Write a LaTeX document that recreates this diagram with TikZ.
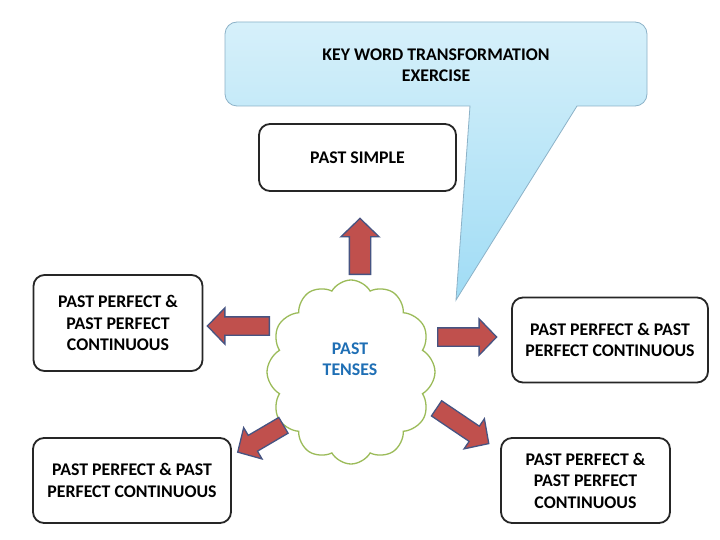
\documentclass[tikz,border=0pt]{standalone}
\usepackage{fontspec}
\setmainfont{Carlito}
\usetikzlibrary{shapes.arrows,shapes.symbols}
\definecolor{arrfill}{RGB}{192,80,77}
\definecolor{arrline}{RGB}{70,84,130}
\definecolor{cloudline}{RGB}{155,187,89}
\definecolor{boxline}{RGB}{38,38,38}
\definecolor{calltop}{RGB}{214,240,250}
\definecolor{callbot}{RGB}{160,220,245}
\definecolor{callline}{RGB}{140,178,200}
\definecolor{tensecol}{RGB}{31,111,181}
\tikzset{
  tensebox/.style={draw=boxline, line width=1.8pt, rounded corners=11pt, fill=white,
    font=\fontsize{17.8}{21.5}\selectfont\bfseries, align=center, inner sep=0pt},
  blockarrow/.style={single arrow, draw=arrline, line width=1.3pt, fill=arrfill,
    inner xsep=0pt, inner ysep=8.5pt, single arrow head extend=9pt, single arrow tip angle=92, anchor=tail},
}
\begin{document}
\begin{tikzpicture}[x=1pt,y=-1pt]
\useasboundingbox (0,0) rectangle (720,540);
\fill[white] (0,0) rectangle (720,540);
% callout
\path[draw=callline, line width=0.8pt, top color=calltop, bottom color=callbot]
  (470,106) -- (456,300) -- (577,106) [rounded corners=12pt] -- (647,106) -- (647,22) -- (225,22) -- (225,106) [sharp corners] -- cycle;
\node[font=\fontsize{17.8}{21.5}\selectfont\bfseries, align=center] (title) at (436,65) {KEY WORD TRANSFORMATION\\EXERCISE};
% boxes
\node[tensebox, minimum width=197pt, minimum height=67pt] (simple) at (357.5,157.5) {PAST SIMPLE};
\node[tensebox, minimum width=169pt, minimum height=96pt] (left) at (118,323) {PAST PERFECT \&\\PAST PERFECT\\CONTINUOUS};
\node[tensebox, minimum width=196pt, minimum height=85pt] (right) at (610,340) {PAST PERFECT \& PAST\\PERFECT CONTINUOUS};
\node[tensebox, minimum width=198pt, minimum height=85pt] (botleft) at (132,480.5) {PAST PERFECT \& PAST\\PERFECT CONTINUOUS};
\node[tensebox, minimum width=169pt, minimum height=85pt] (botright) at (585.5,480.5) {PAST PERFECT \&\\PAST PERFECT\\CONTINUOUS};
% cloud
\node[cloud, cloud puffs=12, cloud puff arc=120, draw=cloudline, line width=1.3pt, fill=white,
  minimum width=168pt, minimum height=184pt, inner sep=0pt] (cloud) at (351,372) {};
\node[font=\fontsize{17.8}{21.5}\selectfont\bfseries, text=tensecol, align=center] (center) at (350,359) {PAST\\TENSES};
% arrows
\node[blockarrow, minimum height=56pt, inner ysep=10pt, single arrow head extend=8.5pt, rotate=90] (aup) at (360,275) {};
\node[blockarrow, minimum height=62pt, rotate=180] (aleft) at (270,326) {};
\node[blockarrow, minimum height=59pt, rotate=0] (aright) at (437,337) {};
\node[blockarrow, minimum height=53pt, rotate=210.4] (adl) at (284,425) {};
\node[blockarrow, minimum height=63pt, rotate=-34] (adr) at (436,408) {};
\end{tikzpicture}
\end{document}
